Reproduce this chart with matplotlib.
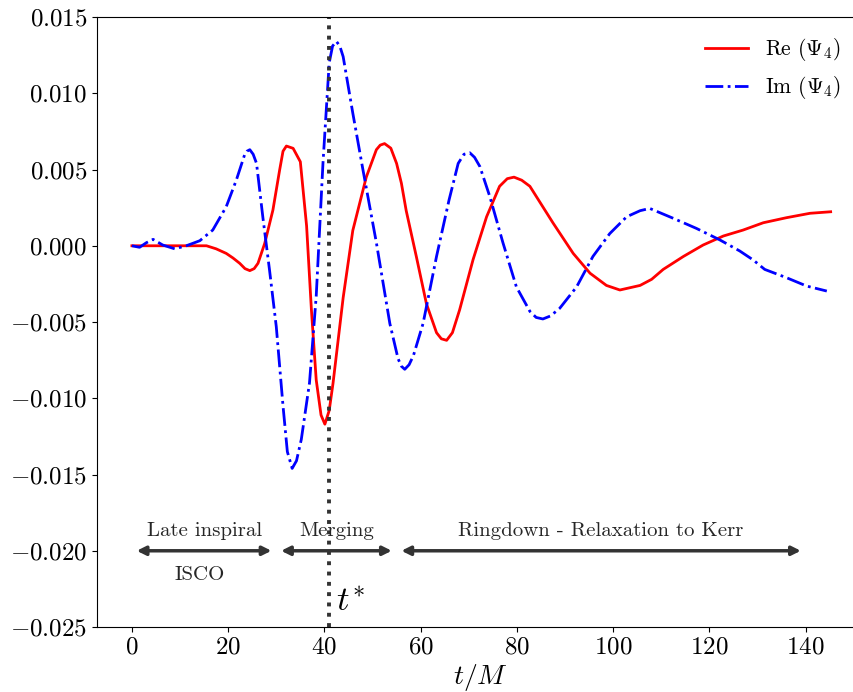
import matplotlib
matplotlib.use("Agg")
import matplotlib.pyplot as plt

# Weyl scalar Psi_4
t_re = [0, 5, 10, 15.5, 17.5, 19.6, 21.0, 22.4, 23.5, 24.5, 25.4, 26.2, 27.6, 29.3,
        30.7, 31.4, 32.1, 33.5, 35.0, 36.3, 37.3, 38.3, 39.3, 40.1, 41.0, 41.8,
        43.9, 45.9, 48.7, 50.8, 51.6, 52.5, 53.8, 55.0, 56.0, 57.0, 59.1, 61.2,
        63.3, 64.3, 65.4, 66.6, 68.1, 70.9, 73.7, 76.4, 78.0, 79.4, 81.0, 82.7,
        87.5, 91.7, 95.2, 98.6, 101.4, 105.6, 108.0, 110.4, 114.6, 118.7, 122.9,
        127.0, 131.2, 136.0, 140.9, 145.2]
re_psi4 = [0, 0, 0, 0, -0.0002, -0.0005, -0.0008, -0.00115, -0.0015, -0.00163,
           -0.0015, -0.00115, 0.00016, 0.00234, 0.00497, 0.0062, 0.00654, 0.00639,
           0.00551, 0.0013, -0.0042, -0.0088, -0.0111, -0.0117, -0.0108, -0.0090,
           -0.0034, 0.0010, 0.0045, 0.0063, 0.0066, 0.0067, 0.0064, 0.0054, 0.0041,
           0.0023, -0.0007, -0.0038, -0.0057, -0.0061, -0.0062, -0.0057, -0.0042,
           -0.0009, 0.0019, 0.0039, 0.0044, 0.0045, 0.0043, 0.0039, 0.0015, -0.0005,
           -0.0018, -0.0026, -0.0029, -0.0026, -0.0022, -0.00155, -0.0007, 0.00005,
           0.00064, 0.00103, 0.00151, 0.00184, 0.00213, 0.00223]

t_im = [0, 1.6, 3.0, 4.4, 6.4, 8.9, 11.3, 14.1, 16.8, 19.6, 21.7, 23.4, 23.9, 24.5,
        25.2, 25.9, 27.2, 28.6, 30.0, 31.4, 32.3, 33.3, 34.2, 35.2, 36.9, 38.3,
        39.7, 41.0, 41.7, 42.5, 43.2, 43.9, 45.9, 48.0, 50.8, 53.6, 55.3, 56.0,
        56.7, 57.6, 58.5, 60.5, 63.3, 65.9, 67.8, 69.0, 70.2, 71.2, 72.3, 74.4,
        77.1, 79.9, 82.7, 84.0, 85.4, 87.0, 88.9, 92.4, 95.8, 99.3, 102.8, 105.6,
        107.6, 112.5, 117.3, 122.2, 126.3, 129.1, 131.5, 136.0, 140.2, 144.4]
im_psi4 = [0, -0.0001, 0.0002, 0.00042, 0.00005, -0.0002, 0, 0.00033, 0.00103,
           0.00256, 0.00431, 0.00595, 0.0062, 0.0063, 0.0060, 0.0054, 0.0019,
           -0.0016, -0.0053, -0.0105, -0.0135, -0.0146, -0.0141, -0.0127, -0.0090,
           -0.0033, 0.0054, 0.0120, 0.0131, 0.0134, 0.0131, 0.0124, 0.0087, 0.0050,
           0.0002, -0.0051, -0.0074, -0.0079, -0.0081, -0.0078, -0.0072, -0.0051,
           -0.0007, 0.0030, 0.0054, 0.0060, 0.0061, 0.0058, 0.0052, 0.0032, 0.0002,
           -0.0027, -0.0043, -0.0047, -0.0048, -0.0046, -0.0041, -0.0027, -0.0007,
           0.0008, 0.0019, 0.0023, 0.00245, 0.0018, 0.00114, 0.00038, -0.00034,
           -0.00093, -0.00155, -0.00209, -0.00264, -0.00297]

t_star = 41.0
# phases: (start, end, label above arrow)
phases = [(1, 29, "Late inspiral"), (31, 54, "Merging"),
          (56, 139, "Ringdown - Relaxation to Kerr")]
arrow_y = -0.020

plt.rcParams['font.family'] = 'serif'
plt.rcParams['font.serif'] = ['cmr10']
plt.rcParams['mathtext.fontset'] = 'cm'
plt.rcParams['axes.formatter.use_mathtext'] = True

fig = plt.figure(figsize=(8.54, 6.92), dpi=100)
ax = fig.add_axes([0.1136, 0.0939, 0.8988, 0.8815])

ax.plot(t_re, re_psi4, color='red', lw=2, label=r'Re $(\Psi_4)$')
ax.plot(t_im, im_psi4, color='blue', lw=2, ls='-.', label=r'Im $(\Psi_4)$')
ax.axvline(t_star, color='0.2', ls=':', lw=2.8)

for start, end, label in phases:
    ax.annotate('', xy=(end, arrow_y), xytext=(start, arrow_y),
                arrowprops=dict(arrowstyle='<|-|>', color='0.2', lw=2.5,
                                mutation_scale=13, shrinkA=0, shrinkB=0))
    ax.text((start + end) / 2, arrow_y + 0.0007, label, ha='center', va='bottom',
            fontsize=15, color='0.15')
ax.text(14, -0.0216, 'ISCO', ha='center', va='center', fontsize=15, color='0.15')
ax.text(t_star + 1.5, -0.0234, r'$t^{*}$', ha='left', va='center', fontsize=25)

ax.set_xlim(-7.25, 152.25)
ax.set_ylim(-0.025, 0.015)
ax.set_xticks(range(0, 141, 20))
ax.set_xlabel(r'$t/M$', fontsize=20, labelpad=2)
ax.tick_params(labelsize=18)
ax.legend(loc='upper right', bbox_to_anchor=(0.995, 1.0), fontsize=15.5,
          frameon=False)

fig.savefig('out.png', dpi=100)
